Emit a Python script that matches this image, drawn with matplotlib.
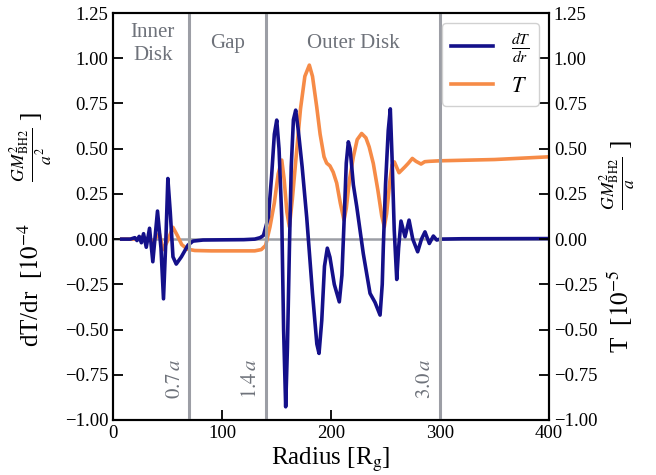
"""dT/dr and T profiles across inner disk, gap and outer disk."""

import matplotlib
matplotlib.use("Agg")
import matplotlib.pyplot as plt
from matplotlib.lines import Line2D

# radius [R_g] and dT/dr [1e-4 GM^2/a^2]
r_dtdr = [8, 16, 20, 22, 24, 26, 28, 30.5, 33.5, 36.5, 40.8, 44, 46.3, 48.5, 50.3, 52.5, 55, 58, 62.7,
          68.8, 73.4, 82.6, 100, 120, 130, 135, 138, 142.5, 145.5, 148, 150.2, 152.3, 154.8, 156.5,
          158.4, 160, 161.8, 163.5, 165.5, 167.6, 170, 173.5, 177.7, 183, 187, 189, 191.5, 194,
          196.6, 199, 203, 207.6, 210, 212, 214, 215.9, 217.5, 220.5, 223.6, 229.6, 235.8, 240.4,
          245, 247, 248, 250, 252.5, 254.4, 256, 258, 260.3, 262, 264.2, 267.9, 271.6, 275,
          279.5, 283, 286.2, 290.2, 293.9, 297, 300, 320, 400]
dtdr = [0, 0, 0.008, -0.008, 0.015, -0.02, 0.03, -0.045, 0.06, -0.125, 0.155, -0.05, -0.33, 0.0, 0.335,
        0.15, -0.098, -0.138, -0.098, -0.033, -0.011, -0.005, -0.004, -0.003, 0.0, 0.008, 0.02, 0.12,
        0.35, 0.58, 0.658, 0.5, 0.12, -0.5, -0.927, -0.6, -0.06, 0.4, 0.66, 0.713, 0.6, 0.4, 0.12,
        -0.3, -0.58, -0.632, -0.45, -0.15, -0.05, -0.1, -0.25, -0.347, -0.2, 0.1, 0.42, 0.538, 0.5,
        0.3, 0.18, -0.08, -0.30, -0.35, -0.42, -0.25, -0.04, 0.3, 0.6, 0.72, 0.45, 0.05, -0.223,
        -0.05, 0.10, 0.013, 0.105, 0.0, -0.07, 0.0, 0.04, -0.024, 0.017, -0.005, 0.0, 0.002, 0.003]

# radius [R_g] and T [1e-5 GM^2/a]
r_temp = [8, 22, 27, 30, 33, 36, 39, 42.5, 46, 50, 55, 59, 63, 68, 75, 90, 130, 136, 140, 144, 148,
          151.5, 154.8, 157, 159.5, 161.8, 164.5, 168.5, 172, 176, 180.1, 183, 186.9, 190, 193.6,
          196, 199, 202, 205.2, 208.5, 211.9, 214, 217, 220.5, 224, 228.1, 232, 235, 238.8, 243,
          246.5, 248.9, 251, 254, 256, 258.1, 262.4, 267.9, 271, 274.6, 278, 282.6, 286, 290, 300,
          350, 400]
temp = [0, 0.0, 0.012, -0.008, 0.015, -0.02, 0.005, 0.03, -0.058, -0.01, 0.065, 0.02, -0.03, -0.055,
        -0.063, -0.065, -0.065, -0.058, -0.035, 0.068, 0.2, 0.36, 0.437, 0.33, 0.15, 0.068, 0.22,
        0.49, 0.72, 0.9, 0.962, 0.9, 0.73, 0.58, 0.455, 0.42, 0.405, 0.37, 0.31, 0.2, 0.105, 0.17,
        0.33, 0.455, 0.55, 0.584, 0.56, 0.51, 0.418, 0.27, 0.13, 0.068, 0.14, 0.32, 0.41, 0.427,
        0.367, 0.4, 0.42, 0.446, 0.43, 0.415, 0.428, 0.43, 0.433, 0.44, 0.455]

boundaries = [70, 140, 300]
boundary_labels = [r"$0.7\,a$", r"$1.4\,a$", r"$3.0\,a$"]
regions = ["Inner\nDisk", "Gap", "Outer Disk"]
region_x = [36.5, 105, 220]

plt.rcParams["font.family"] = "serif"
plt.rcParams["font.serif"] = ["Liberation Serif", "DejaVu Serif"]
plt.rcParams["mathtext.fontset"] = "stix"

BLUE = "#14108a"
ORANGE = "#f68b47"
GREY = "#9c9ea5"
TEXT_GREY = "#6e727a"

fig, ax = plt.subplots(figsize=(6.56, 4.75), dpi=100)
fig.subplots_adjust(left=0.1723, right=0.8369, bottom=0.1158, top=0.9726)
ax2 = ax.twinx()

ax.axhline(0.0, color=GREY, linewidth=1.8, zorder=1)
for xb, lab in zip(boundaries, boundary_labels):
    ax.axvline(xb, color=GREY, linewidth=2.2, zorder=3)
    ax.text(xb - 13, -0.77, lab, rotation=90, ha="center", va="center",
            fontsize=15, color=TEXT_GREY)
for xr, lab in zip(region_x, regions):
    ax.text(xr, 1.08, lab, ha="center", va="center", fontsize=15, color=TEXT_GREY,
            linespacing=1.25)

ax.plot(r_temp, temp, color=ORANGE, linewidth=2.6, zorder=2)
ax.plot(r_dtdr, dtdr, color=BLUE, linewidth=2.6, zorder=2.5)

yticks = [-1.0, -0.75, -0.5, -0.25, 0.0, 0.25, 0.5, 0.75, 1.0, 1.25]
for a in (ax, ax2):
    a.set_ylim(-1.0, 1.25)
    a.set_yticks(yticks)
    a.tick_params(direction="in", length=7, width=1.3, labelsize=13.5)
    for sp in a.spines.values():
        sp.set_linewidth(1.5)
ax.set_xlim(0, 400)
ax.set_xticks([0, 100, 200, 300, 400])

ax.set_xlabel(r"Radius [R$_{\rm g}$]", fontsize=18, labelpad=3)
ax.set_ylabel(r"dT/dr  [$10^{-4}$ $\qquad\frac{GM_{\rm BH2}^2}{a^2}$ ]", fontsize=18,
              labelpad=8, y=0.467)
ax2.set_ylabel(r"T  [$10^{-5}$ $\qquad\quad\frac{GM_{\rm BH2}^2}{a}$ ]", fontsize=18,
               labelpad=0, y=0.426)

handles = [Line2D([0], [0], color=BLUE, linewidth=2.6),
           Line2D([0], [0], color=ORANGE, linewidth=2.6)]
ax2.legend(handles, [r"$\frac{dT}{dr}$", r"$T$"], loc="upper right", fontsize=16,
           borderaxespad=0.45, handlelength=1.9, framealpha=0.9)

fig.savefig("out.png", dpi=100)
